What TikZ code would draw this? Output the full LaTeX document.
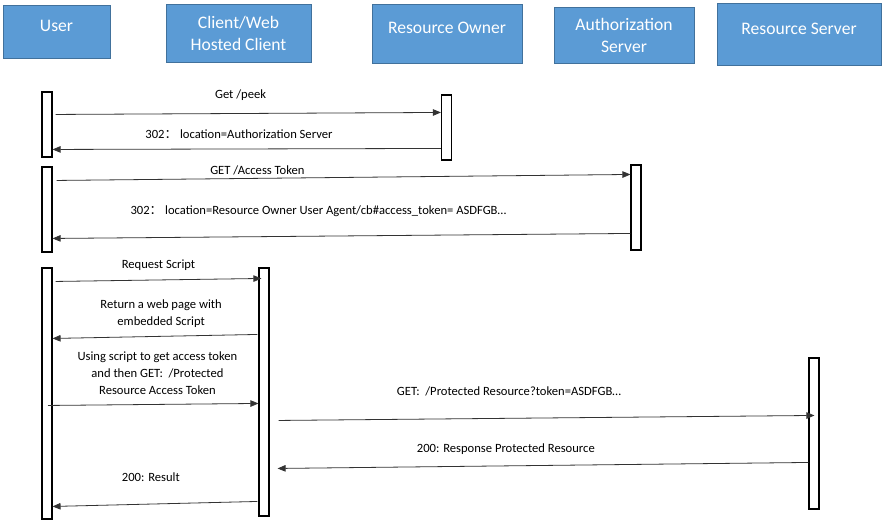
\documentclass[tikz,border=0pt]{standalone}
\usepackage{fontspec}
\setmainfont{Carlito}
\newfontfamily\cjk{Noto Sans CJK SC}
\usepackage{tikz}
\usetikzlibrary{arrows.meta, positioning, calc}
\definecolor{headerblue}{RGB}{91,155,213}
\definecolor{headerline}{RGB}{65,113,156}
\tikzstyle{header} = [rectangle, draw=headerline, line width=1pt, fill=headerblue, text=white, align=center, inner sep=0pt, font=\fontsize{17.6}{22}\selectfont]
\tikzstyle{oneline} = [text height=12pt, text depth=12pt]
\tikzstyle{bar} = [rectangle, draw=black, line width=1.1pt, fill=white, minimum width=10pt, inner sep=0pt]
\tikzstyle{msg} = [draw=black!80, line width=0.8pt, -{Triangle[length=8pt,width=6.5pt]}]
\tikzstyle{lbl} = [align=center, inner sep=0pt, font=\fontsize{12.6}{17}\selectfont]

\begin{document}
\begin{tikzpicture}[x=1pt, y=-1pt]
\useasboundingbox (0,0) rectangle (888,528);

% Participants
\node (user) [header, oneline, minimum width=107pt, minimum height=53pt] at (56.5,31.5) {User};
\node (client) [header, minimum width=145pt, minimum height=58pt] at (238.5,33) {Client/Web\\Hosted Client};
\node (owner) [header, oneline, minimum width=150pt, minimum height=59pt] at (447,33.5) {Resource Owner};
\node (authsrv) [header, minimum width=140pt, minimum height=56pt] at (624,35.5) {Authorization\\Server};
\node (ressrv) [header, oneline, minimum width=164pt, minimum height=62pt] at (799,34) {Resource Server};

% Activation bars
\node (userA) [bar, minimum height=65pt] at (47,124.5) {};
\node (ownerbar) [bar, minimum height=65pt] at (446.5,127.5) {};
\node (userB) [bar, minimum height=85pt] at (47,209.5) {};
\node (authbar) [bar, minimum height=85pt] at (636,207.5) {};
\node (userC) [bar, minimum height=251pt] at (47,393.5) {};
\node (clientbar) [bar, minimum height=248pt] at (264,392) {};
\node (resbar) [bar, minimum height=151pt] at (814,433.5) {};

% Redirect to authorization server
\draw [msg] ($(userA.north east)+(3,23)$) -- node[lbl, pos=0.48, yshift=18] (m1) {Get /peek} ($(ownerbar.north west)+(0,18)$);
\draw [msg] ($(ownerbar.north west)+(0,54)$) -- node[lbl, pos=0.52, yshift=15] (m2) {302{\cjk ：}\ location=Authorization Server} ($(userA.north east)+(0,58)$);

% Implicit token
\draw [msg] ($(userB.north east)+(4,14)$) -- node[lbl, pos=0.35, yshift=7.5] (m3) {GET /Access Token} ($(authbar.north west)+(0,10)$);
\draw [msg] ($(authbar.north west)+(0,69)$) -- node[lbl, pos=0.54, yshift=25] (m4) {302{\cjk ：}\ location=Resource Owner User Agent/cb\#access\_token= ASDFGB…} ($(userB.north east)+(0,72)$);

% Script and protected resource
\draw [msg] ($(userC.north east)+(3,14)$) -- node[lbl, pos=0.5, yshift=15] (m5) {Request Script} ($(clientbar.north west)+(3,11)$);
\draw [msg] ($(clientbar.north west)+(-1,67)$) -- node[lbl, pos=0.47, yshift=23] (m6) {Return a web page with\\embedded Script} ($(userC.north east)+(0,71)$);
\draw [msg] ($(userC.north)+(1,138)$) -- node[lbl, pos=0.52, yshift=31] (m7) {Using script to get access token\\and then GET:\ \ /Protected\\Resource Access Token} ($(clientbar.north west)+(0,136)$);
\draw [msg] ($(clientbar.north east)+(9,153)$) -- node[lbl, pos=0.43, yshift=27] (m8) {GET:\ \ /Protected Resource?token=ASDFGB…} ($(resbar.north west)+(6,58)$);
\draw [msg] ($(resbar.north west)+(0,105)$) -- node[lbl, pos=0.57, yshift=17] (m9) {200: Response Protected Resource} ($(clientbar.north east)+(8,201)$);
\draw [msg] ($(clientbar.north west)+(-1,234)$) -- node[lbl, pos=0.52, yshift=27] (m10) {200: Result} ($(userC.north east)+(0,239)$);

\end{tikzpicture}
\end{document}
